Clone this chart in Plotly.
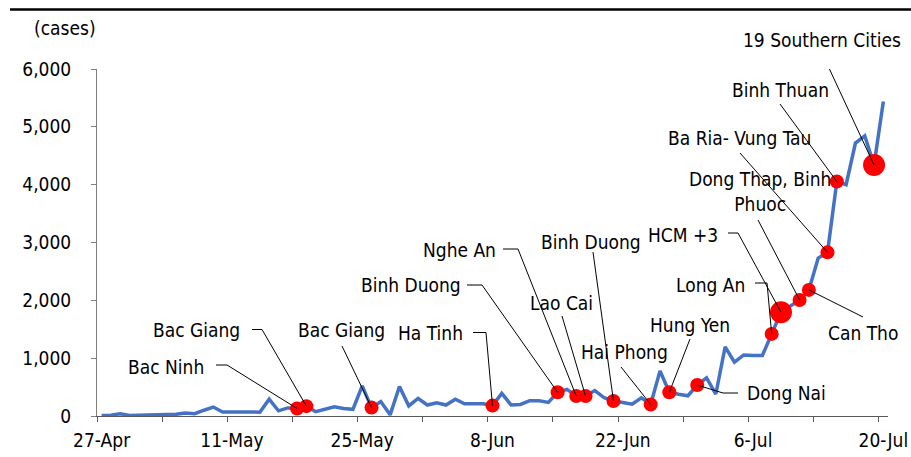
import pandas as pd
import plotly.graph_objects as go

# Daily new COVID-19 cases in Vietnam, 27 Apr - 20 Jul 2021
dates = pd.date_range("2021-04-27", "2021-07-20", freq="D")
cases = [
    10, 15, 40, 10, 12, 15, 10, 12, 30, 50,
    40, 100, 155, 70, 75, 75, 70, 65, 290, 90,
    140, 130, 170, 75, 115, 160, 130, 115, 520, 145,
    250, 20, 510, 175, 305, 190, 230, 190, 290, 210,
    210, 210, 180, 390, 190, 200, 265, 265, 235, 410,
    460, 345, 345, 440, 315, 260, 235, 205, 315, 200,
    780, 410, 375, 350, 535, 660, 380, 1195, 930, 1055,
    1045, 1045, 1420, 1795, 1900, 2007, 2180, 2730, 2830, 4055,
    4000, 4720, 4845, 4340, 5440,
]

# Days on which new clusters were reported, with the provinces involved
event_dates = [
    "2021-05-18", "2021-05-19", "2021-05-26", "2021-06-08", "2021-06-15",
    "2021-06-17", "2021-06-18", "2021-06-21", "2021-06-25", "2021-06-27",
    "2021-06-30", "2021-07-08", "2021-07-09", "2021-07-11", "2021-07-12",
    "2021-07-14", "2021-07-15", "2021-07-19",
]
event_labels = [
    "Bac Ninh", "Bac Giang", "Bac Giang", "Ha Tinh", "Binh Duong",
    "Nghe An", "Lao Cai", "Binh Duong", "Hai Phong", "Hung Yen",
    "Dong Nai", "Long An", "HCM +3", "Dong Thap, Binh<br>Phuoc", "Can Tho",
    "Ba Ria- Vung Tau", "Binh Thuan", "19 Southern Cities",
]

y_ticks = [0, 1000, 2000, 3000, 4000, 5000, 6000]
x_tick_dates = ["2021-04-27", "2021-05-11", "2021-05-25", "2021-06-08",
                "2021-06-22", "2021-07-06", "2021-07-20"]
x_tick_text = ["27-Apr", "11-May", "25-May", "8-Jun", "22-Jun", "6-Jul", "20-Jul"]

# ---- page geometry (pixels) ----
W, H = 911, 457
PL, PR, PT, PB = 97, 888, 69, 416
Y_MAX = 6000
X0 = dates[0] - pd.Timedelta(hours=12)
X1 = dates[-1] + pd.Timedelta(hours=12)


def px_x(px):
    ts = X0 + (X1 - X0) * ((px - PL) / (PR - PL))
    return ts.strftime("%Y-%m-%d %H:%M:%S")


def px_y(py):
    return (PB - py) / (PB - PT) * Y_MAX


# Callout placement: label anchor (px), text alignment, leader bend points (px), dot size
callouts = [
    dict(tx=206, ty=367, anchor="right", bend=[(216, 365), (227, 365)], size=14),
    dict(tx=242, ty=330, anchor="right", bend=[(252, 329.5), (262, 329.5)], size=14),
    dict(tx=341, ty=330, anchor="center", bend=[(342, 346)], size=14),
    dict(tx=465, ty=333, anchor="right", bend=[(473, 332.5), (486, 332.5)], size=14),
    dict(tx=463, ty=285, anchor="right", bend=[(467, 285), (482, 285)], size=14),
    dict(tx=498, ty=250, anchor="right", bend=[(503, 249), (518, 249)], size=14),
    dict(tx=561, ty=303, anchor="center", bend=[(562, 316)], size=14),
    dict(tx=591, ty=242, anchor="center", bend=[(593, 252)], size=14),
    dict(tx=624, ty=352, anchor="center", bend=[(621, 367)], size=14),
    dict(tx=690, ty=325, anchor="center", bend=[(690, 339)], size=14),
    dict(tx=745, ty=393, anchor="left", bend=[(738, 393), (723, 393)], size=14),
    dict(tx=747, ty=285, anchor="right", bend=[(755, 283), (767, 283)], size=14),
    dict(tx=720, ty=235, anchor="right", bend=[(728, 233), (738, 233)], size=22),
    dict(tx=760, ty=191, anchor="center", bend=[(758, 220)], size=14),
    dict(tx=863, ty=333, anchor="center", bend=[(863, 317)], size=14),
    dict(tx=739, ty=138, anchor="center", bend=[(740, 153)], size=14),
    dict(tx=780, ty=90, anchor="center", bend=[(780, 104)], size=14),
    dict(tx=822, ty=40, anchor="center", bend=[(822, 53)], size=22),
]

FONT = "DejaVu Sans Condensed, DejaVu Sans, sans-serif"
FS = 19

series = pd.Series(cases, index=dates)
event_ts = pd.to_datetime(event_dates)
event_vals = [series[d] for d in event_ts]

fig = go.Figure()

fig.add_trace(go.Scatter(
    x=dates, y=cases, mode="lines",
    line=dict(color="#4472C4", width=3.5),
    hoverinfo="skip", showlegend=False,
))

fig.add_trace(go.Scatter(
    x=event_ts, y=event_vals, mode="markers",
    marker=dict(color="#FF0000", opacity=1,
                size=[c["size"] for c in callouts], line=dict(width=0)),
    text=event_labels, hoverinfo="text", showlegend=False,
))


def fig_x(px):
    return px / W


def fig_y(py):
    return 1 - py / H


annotations = []
for c, d, v, label in zip(callouts, event_ts, event_vals, event_labels):
    xs = [px_x(p[0]) for p in c["bend"]] + [d.strftime("%Y-%m-%d")]
    ys = [px_y(p[1]) for p in c["bend"]] + [v]
    fig.add_trace(go.Scatter(
        x=xs, y=ys, mode="lines",
        line=dict(color="#000000", width=1),
        hoverinfo="skip", showlegend=False,
    ))
    annotations.append(dict(
        text=label, xref="paper", yref="paper",
        x=fig_x(c["tx"]), y=fig_y(c["ty"]),
        xanchor=c["anchor"], yanchor="middle", align="center",
        showarrow=False, font=dict(family=FONT, size=FS, color="#000000"),
    ))

annotations.append(dict(
    text="(cases)", xref="paper", yref="paper",
    x=fig_x(65), y=fig_y(28),
    xanchor="center", yanchor="middle", showarrow=False,
    font=dict(family=FONT, size=FS, color="#000000"),
))

fig.update_layout(
    template="none",
    width=W, height=H,
    margin=dict(l=0, r=0, t=0, b=0, pad=0),
    paper_bgcolor="white", plot_bgcolor="white",
    font=dict(family=FONT, size=FS, color="#000000"),
    annotations=annotations,
    shapes=[dict(
        type="line", xref="paper", yref="paper",
        x0=fig_x(10), x1=fig_x(911), y0=fig_y(9.5), y1=fig_y(9.5),
        line=dict(color="#000000", width=2.5),
    )],
)

fig.update_xaxes(
    type="date", domain=[PL / W, PR / W], automargin=False,
    range=[X0.strftime("%Y-%m-%d %H:%M:%S"), X1.strftime("%Y-%m-%d %H:%M:%S")],
    tickvals=x_tick_dates, ticktext=x_tick_text,
    ticks="outside", ticklen=5, tickcolor="rgba(0,0,0,0)",
    minor=dict(ticks="outside", ticklen=5, tickcolor="#595959",
               tick0=X0.strftime("%Y-%m-%d %H:%M:%S"), dtick=7 * 86400000,
               showgrid=False),
    showline=True, linecolor="#595959", linewidth=1.3,
    showgrid=False, zeroline=False,
    tickfont=dict(family=FONT, size=FS, color="#000000"),
    ticklabelstandoff=2,
    fixedrange=True,
)

fig.update_yaxes(
    domain=[1 - PB / H, 1 - PT / H], automargin=False,
    range=[0, Y_MAX], tickvals=y_ticks, tickformat=",",
    ticks="outside", ticklen=5, tickcolor="#7f7f7f",
    showline=True, linecolor="#7f7f7f", linewidth=1,
    showgrid=False, zeroline=False,
    tickfont=dict(family=FONT, size=FS, color="#000000"),
    ticklabelstandoff=16,
    fixedrange=True,
)

fig.write_html("out.html")
